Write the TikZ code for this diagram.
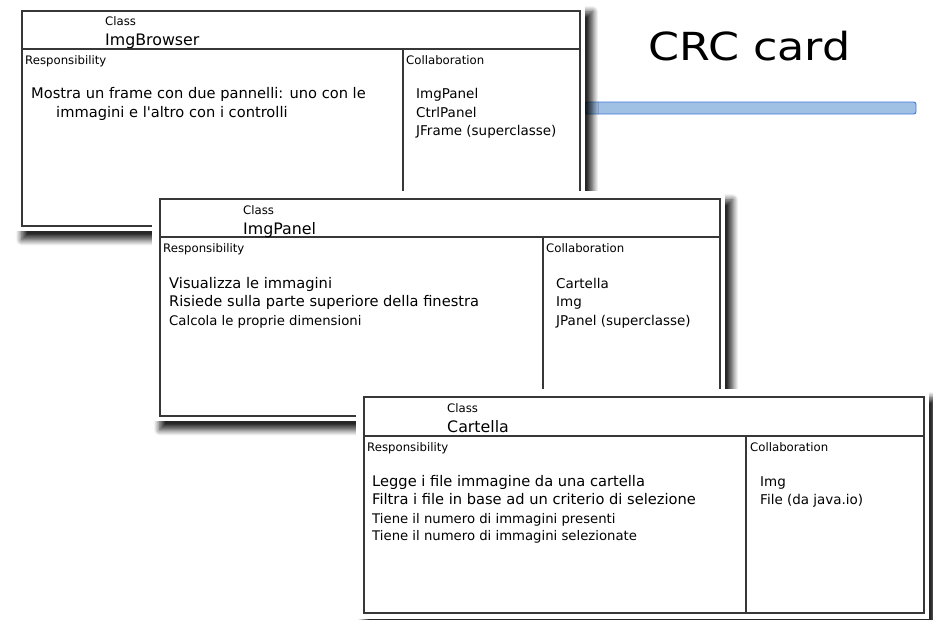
\documentclass[tikz,border=0pt]{standalone}
\usepackage{fontspec}
\setmainfont{DejaVu Sans}
\usetikzlibrary{shadows, shadows.blur}

\definecolor{barfill}{RGB}{160,192,228}
\definecolor{bardraw}{RGB}{66,122,214}
\definecolor{cardline}{RGB}{55,55,55}

\begin{document}
\begin{tikzpicture}[
    x=0.03cm, y=-0.03cm,
    cardbg/.style={fill=white,
        blur shadow={shadow xshift=6.5pt, shadow yshift=-7.5pt, shadow blur radius=5pt,
                     shadow blur steps=12, shadow opacity=85}},
    frame/.style={draw=cardline, line width=0.9pt},
    label/.style={anchor=base west, inner sep=0pt, font=\fontsize{10}{12}\selectfont},
    classname/.style={anchor=base west, inner sep=0pt, font=\fontsize{13.5}{16}\selectfont},
    resp/.style={anchor=base west, inner sep=0pt, font=\fontsize{12.5}{15}\selectfont},
    respsmall/.style={anchor=base west, inner sep=0pt, font=\fontsize{11.3}{14}\selectfont},
    collab/.style={anchor=base west, inner sep=0pt, font=\fontsize{11.5}{14}\selectfont},
    bar/.style={draw=bardraw, fill=barfill, line width=0.8pt, rounded corners=2pt},
    title/.style={anchor=base, inner sep=0pt, font=\fontsize{33}{40}\selectfont}
]
\useasboundingbox (0,0) rectangle (933,619);

% Title and bar
\draw[bar] (585,102) rectangle (916,114);
\node[title] (title) at (749.5,61) {\scalebox{1.15}[1]{CRC card}};

% Card: ImgBrowser
\begin{scope}[shift={(22,11)}]
  \fill[cardbg] (-8,-8) rectangle (563,220);
  \draw[frame] (0,0) rectangle (558,215);
  \draw[frame] (0,38) -- (558,38);
  \draw[frame] (381,38) -- (381,215);
  \node[label] (browser-class) at (83,15) {Class};
  \node[classname] (browser-name) at (83,35) {ImgBrowser};
  \node[label] (browser-resp) at (3,53) {Responsibility};
  \node[label] (browser-collab) at (384,53) {Collaboration};
  \node[resp] (browser-r1) at (9,88) {Mostra un frame con due pannelli: uno con le};
  \node[resp] (browser-r2) at (34,106) {immagini e l\textquotesingle altro con i controlli};
  \node[collab] (browser-c1) at (394,88) {ImgPanel};
  \node[collab] (browser-c2) at (394,106) {CtrlPanel};
  \node[collab] (browser-c3) at (394,124) {JFrame (superclasse)};
\end{scope}

% Card: ImgPanel
\begin{scope}[shift={(160,199)}]
  \fill[cardbg] (-8,-8) rectangle (565,222);
  \draw[frame] (0,0) rectangle (560,217);
  \draw[frame] (0,38) -- (560,38);
  \draw[frame] (383,38) -- (383,217);
  \node[label] (panel-class) at (83,15) {Class};
  \node[classname] (panel-name) at (83,35) {ImgPanel};
  \node[label] (panel-resp) at (3,53) {Responsibility};
  \node[label] (panel-collab) at (386,53) {Collaboration};
  \node[resp] (panel-r1) at (9,89) {Visualizza le immagini};
  \node[resp] (panel-r2) at (9,107) {Risiede sulla parte superiore della finestra};
  \node[respsmall] (panel-r3) at (9,126) {Calcola le proprie dimensioni};
  \node[collab] (panel-c1) at (396,89) {Cartella};
  \node[collab] (panel-c2) at (396,107) {Img};
  \node[collab] (panel-c3) at (396,126) {JPanel (superclasse)};
\end{scope}

% Card: Cartella
\begin{scope}[shift={(364,397)}]
  \fill[cardbg] (-8,-8) rectangle (565,222);
  \draw[frame] (0,0) rectangle (560,216);
  \draw[frame] (0,39) -- (560,39);
  \draw[frame] (382,39) -- (382,216);
  \node[label] (folder-class) at (83,15) {Class};
  \node[classname] (folder-name) at (83,35) {Cartella};
  \node[label] (folder-resp) at (3,54) {Responsibility};
  \node[label] (folder-collab) at (386,54) {Collaboration};
  \node[resp] (folder-r1) at (8,89) {Legge i file immagine da una cartella};
  \node[resp] (folder-r2) at (8,107) {Filtra i file in base ad un criterio di selezione};
  \node[respsmall] (folder-r3) at (8,126) {Tiene il numero di immagini presenti};
  \node[respsmall] (folder-r4) at (8,143) {Tiene il numero di immagini selezionate};
  \node[collab] (folder-c1) at (396,89) {Img};
  \node[collab] (folder-c2) at (396,107) {File (da java.io)};
\end{scope}

\end{tikzpicture}
\end{document}
